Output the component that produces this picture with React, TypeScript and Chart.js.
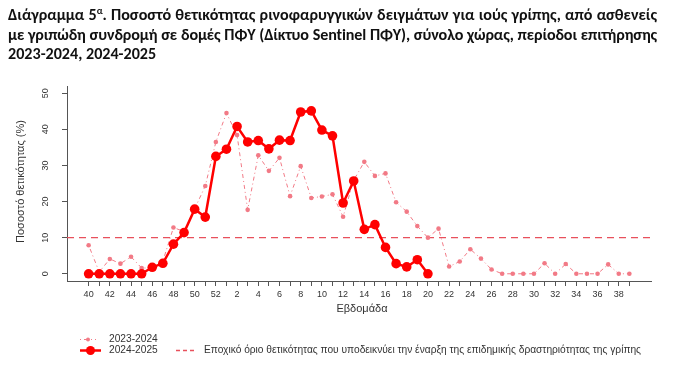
import React, { useEffect, useRef } from "react";
import { Chart, registerables } from "chart.js";

Chart.register(...registerables);

const weeks: number[] = [
  40, 41, 42, 43, 44, 45, 46, 47, 48, 49, 50, 51, 52,
  1, 2, 3, 4, 5, 6, 7, 8, 9, 10, 11, 12, 13, 14, 15, 16, 17, 18, 19, 20,
  21, 22, 23, 24, 25, 26, 27, 28, 29, 30, 31, 32, 33, 34, 35, 36, 37, 38, 39,
];

// 2023-2024 season positivity (%), one value per week above
const season2324: number[] = [
  7.9, 0.5, 4.1, 2.8, 4.7, 1.6, 1.6, 3.5, 12.8, 11.7, 18.0, 24.3, 36.5,
  44.5, 38.4, 17.7, 32.8, 28.5, 32.1, 21.5, 29.8, 21.0, 21.4, 22.0, 15.8, 25.9, 31.0, 27.1, 27.8, 19.8, 17.2, 13.2, 10.0,
  12.5, 2.0, 3.4, 6.8, 4.2, 1.2, 0, 0, 0, 0, 2.9, 0, 2.7, 0, 0, 0, 2.6, 0, 0,
];

// 2024-2025 season positivity (%), up to week 20
const season2425: number[] = [
  0, 0, 0, 0, 0, 0, 1.8, 2.9, 8.2, 11.4, 17.9, 15.7, 32.5,
  34.5, 40.8, 36.5, 36.9, 34.6, 37.0, 36.9, 44.8, 45.1, 39.8, 38.2, 19.6, 25.7, 12.3, 13.6, 7.3, 2.8, 1.9, 3.9, 0,
];

const thresholdValue = 10;
const yTicks: number[] = [0, 10, 20, 30, 40, 50];

const seriesNames = ["2023-2024", "2024-2025"];
const thresholdName =
  "Εποχικό όριο θετικότητας που υποδεικνύει την έναρξη της επιδημικής δραστηριότητας της γρίπης";
const xTitle = "Εβδομάδα";
const yTitle = "Ποσοστό θετικότητας (%)";

const RED = "#ff0000";
const LIGHT = "#f27a86";
const THR = "#e8505c";
const AXIS = "#555555";
const TEXT = "#333333";
const FONT = "'Liberation Sans', Arial, sans-serif";

const xMin = -2.04;
const xMax = weeks.length - 1 + 2.04;

export default function App() {
  const ref = useRef<HTMLCanvasElement | null>(null);

  useEffect(() => {
    if (!ref.current) return;

    const overlay = {
      id: "overlay",
      afterDraw(chart: any) {
        const ctx = chart.ctx as CanvasRenderingContext2D;
        const ys = chart.scales.y;
        const area = chart.chartArea;
        ctx.save();
        ctx.fillStyle = TEXT;
        // rotated y tick labels
        ctx.font = `9px ${FONT}`;
        ctx.textAlign = "center";
        ctx.textBaseline = "middle";
        for (const v of yTicks) {
          const py = ys.getPixelForValue(v);
          ctx.save();
          ctx.translate(45.5, py);
          ctx.rotate(-Math.PI / 2);
          ctx.fillText(String(v), 0, 0);
          ctx.restore();
        }
        // y title
        ctx.font = `11px ${FONT}`;
        ctx.save();
        ctx.translate(21, (area.top + area.bottom) / 2 - 2);
        ctx.rotate(-Math.PI / 2);
        ctx.fillText(yTitle, 0, 0);
        ctx.restore();
        // x title
        ctx.fillText(xTitle, (area.left + area.right) / 2 + 3, 309);

        // legend
        ctx.font = `10.2px ${FONT}`;
        ctx.textAlign = "left";
        const r1 = 339.5;
        const r2 = 350.5;
        ctx.strokeStyle = LIGHT;
        ctx.lineWidth = 1;
        ctx.setLineDash([1, 3, 4, 3]);
        ctx.beginPath();
        ctx.moveTo(80, r1);
        ctx.lineTo(96, r1);
        ctx.stroke();
        ctx.setLineDash([]);
        ctx.fillStyle = LIGHT;
        ctx.beginPath();
        ctx.arc(88, r1, 2, 0, Math.PI * 2);
        ctx.fill();

        ctx.strokeStyle = RED;
        ctx.lineWidth = 2.5;
        ctx.beginPath();
        ctx.moveTo(80, r2);
        ctx.lineTo(101, r2);
        ctx.stroke();
        ctx.fillStyle = RED;
        ctx.beginPath();
        ctx.arc(90.5, r2, 4.5, 0, Math.PI * 2);
        ctx.fill();

        ctx.strokeStyle = THR;
        ctx.lineWidth = 1.3;
        ctx.setLineDash([4, 3]);
        ctx.beginPath();
        ctx.moveTo(176, r2);
        ctx.lineTo(196, r2);
        ctx.stroke();
        ctx.setLineDash([]);

        ctx.fillStyle = TEXT;
        ctx.fillText(seriesNames[0], 109, r1);
        ctx.fillText(seriesNames[1], 109, r2);
        ctx.fillText(thresholdName, 204, r2);
        ctx.restore();
      },
    };

    const chart = new Chart(ref.current, {
      type: "line",
      data: {
        datasets: [
          {
            label: seriesNames[1],
            data: season2425.map((v, i) => ({ x: i, y: v })),
            borderColor: RED,
            backgroundColor: RED,
            borderWidth: 2.5,
            pointRadius: 4.8,
            pointBorderWidth: 0,
            pointBackgroundColor: RED,
            tension: 0,
            order: 0,
          },
          {
            label: seriesNames[0],
            data: season2324.map((v, i) => ({ x: i, y: v })),
            borderColor: LIGHT,
            backgroundColor: LIGHT,
            borderWidth: 1,
            borderDash: [1, 3, 4, 3],
            pointRadius: 2.3,
            pointBorderWidth: 0,
            pointBackgroundColor: LIGHT,
            tension: 0,
            order: 1,
          },
          {
            label: thresholdName,
            data: [
              { x: xMin, y: thresholdValue },
              { x: xMax, y: thresholdValue },
            ],
            borderColor: THR,
            borderWidth: 1.4,
            borderDash: [7, 5],
            pointRadius: 0,
            order: 2,
          },
        ],
      },
      options: {
        responsive: false,
        animation: false,
        devicePixelRatio: 1,
        layout: { padding: { top: 86, right: 32, bottom: 0, left: 0 } },
        plugins: {
          legend: { display: false },
          tooltip: { enabled: false },
        },
        scales: {
          x: {
            type: "linear",
            min: xMin,
            max: xMax,
            afterBuildTicks: (s: any) => {
              s.ticks = weeks.map((_, i) => ({ value: i }));
            },
            afterFit: (s: any) => {
              s.height = 86;
            },
            border: { display: true, color: AXIS, width: 1 },
            grid: {
              display: true,
              drawOnChartArea: false,
              drawTicks: true,
              tickLength: 5,
              color: AXIS,
            },
            ticks: {
              autoSkip: false,
              maxRotation: 0,
              minRotation: 0,
              padding: 3,
              color: TEXT,
              font: { size: 9, family: FONT },
              callback: (v: any) => {
                const i = Math.round(Number(v));
                return i % 2 === 0 ? String(weeks[i]) : "";
              },
            },
          },
          y: {
            type: "linear",
            min: -2,
            max: 52,
            afterBuildTicks: (s: any) => {
              s.ticks = yTicks.map((v) => ({ value: v }));
            },
            afterFit: (s: any) => {
              s.width = 67;
            },
            border: { display: true, color: AXIS, width: 1 },
            grid: {
              display: true,
              drawOnChartArea: false,
              drawTicks: true,
              tickLength: 5,
              color: AXIS,
            },
            ticks: { display: false },
          },
        },
      },
      plugins: [overlay],
    } as any);

    return () => chart.destroy();
  }, []);

  const justified: React.CSSProperties = {
    width: 649,
    textAlign: "justify",
    textAlignLast: "justify",
  };

  return (
    <div style={{ position: "absolute", left: 0, top: 0, width: 683, height: 367, background: "#fff" }}>
      <canvas
        ref={ref}
        width={683}
        height={367}
        style={{ position: "absolute", left: 0, top: 0, width: 683, height: 367 }}
      />
      <div
        style={{
          position: "absolute",
          left: 8,
          top: 5.3,
          fontFamily: "Carlito, 'Open Sans', sans-serif",
          fontWeight: 700,
          fontSize: 16.1,
          lineHeight: "19.4px",
          color: "#111",
          whiteSpace: "nowrap",
        }}
      >
        <div style={justified}>
          Διάγραμμα 5<sup style={{ fontSize: 10, lineHeight: 0 }}>α</sup>. Ποσοστό θετικότητας ρινοφαρυγγικών δειγμάτων για ιούς γρίπης, από ασθενείς
        </div>
        <div style={{ ...justified, letterSpacing: "-0.12px" }}>
          με γριπώδη συνδρομή σε δομές ΠΦΥ (Δίκτυο Sentinel ΠΦΥ), σύνολο χώρας, περίοδοι επιτήρησης
        </div>
        <div>2023-2024, 2024-2025</div>
      </div>
    </div>
  );
}
